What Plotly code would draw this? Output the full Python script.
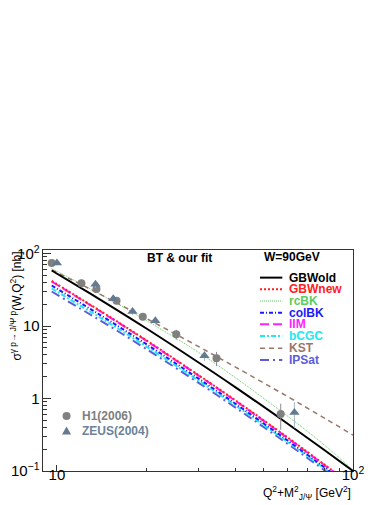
import plotly.graph_objects as go

# curve grid: Q2 + M2_J/psi [GeV^2]
xgrid = [9.6, 12, 15, 20, 30, 40, 60, 80, 100]

gbwold = [58.5, 34.0, 19.5, 9.33, 3.17, 1.44, 0.453, 0.195, 0.100]
gbwnew = [42.0, 24.0, 13.6, 6.40, 2.12, 0.950, 0.292, 0.123, 0.063]
rcbk = [62.2, 38.6, 23.6, 12.0, 4.37, 1.95, 0.575, 0.229, 0.103]
colbk = [36.3, 20.9, 11.95, 5.67, 1.90, 0.854, 0.266, 0.113, 0.058]
iim = [41.2, 23.6, 13.4, 6.31, 2.09, 0.933, 0.287, 0.121, 0.062]
bcgc = [33.0, 19.1, 11.0, 5.26, 1.78, 0.807, 0.254, 0.109, 0.056]
kst = [59.7, 37.9, 23.7, 12.8, 5.25, 2.73, 1.07, 0.538, 0.313]
ipsat = [30.0, 17.4, 10.1, 4.85, 1.66, 0.755, 0.239, 0.103, 0.054]

# data
h1_x = [9.6, 12.1, 13.6, 15.9, 19.5, 25.3, 34.6, 57.0]
h1_y = [74.0, 39.0, 32.4, 22.3, 13.5, 7.7, 3.6, 0.61]
h1_err = [3.0, 5.0, 3.0, 2.0, 1.5, 1.2, 0.8, 0.24]

zeus_x = [10.0, 13.5, 15.5, 18.0, 21.5, 31.5, 63.4]
zeus_y = [74.0, 37.9, 23.8, 15.9, 11.8, 3.9, 0.64]
zeus_err = [5.0, 4.0, 2.5, 1.6, 1.2, 0.6, 0.25]

models = [
    ("GBWold", gbwold, "black", "solid", 2),
    ("GBWnew", gbwnew, "#ff2020", "2px,2px", 2),
    ("rcBK", rcbk, "#5ccc5c", "1px,1px", 1),
    ("colBK", colbk, "#1a1aff", "4px,2px,1px,2px", 2),
    ("IIM", iim, "#ff22ff", "9px,4px", 2),
    ("bCGC", bcgc, "#22e8ee", "5px,2px,2px,2px", 2),
    ("KST", kst, "#98786a", "5px,4px", 1.5),
    ("IPSat", ipsat, "#5c5cdc", "9px,4px,2px,4px", 2),
]
# draw order: keep magenta/red on top of the low bundle
draw_order = ["rcBK", "KST", "GBWold", "IPSat", "bCGC", "colBK", "IIM", "GBWnew"]

FONT = "Liberation Sans, Arial, Helvetica, sans-serif"

fig = go.Figure()

bykey = {m[0]: m for m in models}
for key in draw_order:
    name, ys, col, dash, w = bykey[key]
    fig.add_trace(go.Scatter(
        x=xgrid, y=ys, mode="lines", name=name,
        line=dict(color=col, dash=dash, width=w, shape="spline"),
        showlegend=False,
    ))

fig.add_trace(go.Scatter(
    x=h1_x, y=h1_y, mode="markers", name="H1(2006)",
    marker=dict(symbol="circle", size=8, color="#808080"),
    error_y=dict(type="data", array=h1_err, color="#8c8c8c", thickness=1, width=0),
    showlegend=False,
))
fig.add_trace(go.Scatter(
    x=zeus_x, y=zeus_y, mode="markers", name="ZEUS(2004)",
    marker=dict(symbol="triangle-up", size=9, color="#637a90"),
    error_y=dict(type="data", array=zeus_err, color="#a6b6c4", thickness=1, width=0),
    showlegend=False,
))

shapes = []
annotations = []

# model legend (drawn by hand, ROOT-like compact spacing)
leg_y = [0.875, 0.822, 0.769, 0.716, 0.664, 0.611, 0.555, 0.502]
for (name, ys, col, dash, w), yy in zip(models, leg_y):
    shapes.append(dict(type="line", xref="paper", yref="paper",
                       x0=0.700, x1=0.772, y0=yy, y1=yy,
                       line=dict(color=col, dash=dash, width=w)))
    annotations.append(dict(xref="paper", yref="paper", x=0.788, y=yy,
                            xanchor="left", yanchor="middle", showarrow=False,
                            text="<b>%s</b>" % name,
                            font=dict(family=FONT, size=12, color=col)))

# data legend
shapes.append(dict(type="circle", xref="paper", yref="paper",
                   xsizemode="pixel", ysizemode="pixel",
                   xanchor=0.076, yanchor=0.249,
                   x0=-4, x1=4, y0=-4, y1=4,
                   fillcolor="#808080", line=dict(width=0)))
shapes.append(dict(type="path", xref="paper", yref="paper",
                   xsizemode="pixel", ysizemode="pixel",
                   xanchor=0.076, yanchor=0.181,
                   path="M -4.5 -3.5 L 4.5 -3.5 L 0 4.5 Z",
                   fillcolor="#637a90", line=dict(width=0)))
annotations.append(dict(xref="paper", yref="paper", x=0.119, y=0.249,
                        xanchor="left", yanchor="middle", showarrow=False,
                        text="<b>H1(2006)</b>",
                        font=dict(family=FONT, size=12, color="#808080")))
annotations.append(dict(xref="paper", yref="paper", x=0.119, y=0.181,
                        xanchor="left", yanchor="middle", showarrow=False,
                        text="<b>ZEUS(2004)</b>",
                        font=dict(family=FONT, size=12, color="#6d8299")))

# labels
annotations.append(dict(xref="paper", yref="paper", x=0.44, y=0.964,
                        xanchor="center", yanchor="middle", showarrow=False,
                        text="<b>BT &amp; our fit</b>",
                        font=dict(family=FONT, size=12, color="black")))
annotations.append(dict(xref="paper", yref="paper", x=0.802, y=0.967,
                        xanchor="center", yanchor="middle", showarrow=False,
                        text="<b>W=90GeV</b>",
                        font=dict(family=FONT, size=12, color="black")))
annotations.append(dict(xref="paper", yref="paper", x=-0.09, y=1.0,
                        xanchor="center", yanchor="top", showarrow=False,
                        textangle=-90,
                        text="σ<sup>γ p→ J/Ψ p</sup>(W,Q<sup>2</sup>) [nb]",
                        font=dict(family=FONT, size=12, color="black")))
annotations.append(dict(xref="paper", yref="paper", x=1.0, y=-0.098,
                        xanchor="right", yanchor="middle", showarrow=False,
                        text="Q<sup>2</sup>+M<sup>2</sup><sub>J/Ψ</sub> [GeV<sup>2</sup>]",
                        font=dict(family=FONT, size=12, color="black")))

# page body adds an 8 px offset, so the figure is 8 px smaller
fig.update_layout(
    width=382, height=497,
    margin=dict(l=35, r=37, t=242, b=34),
    paper_bgcolor="white", plot_bgcolor="white",
    font=dict(family=FONT, size=12, color="black"),
    shapes=shapes, annotations=annotations,
    xaxis=dict(
        type="log", range=[0.953, 2.0], dtick=1, exponentformat="power",
        ticks="inside", ticklen=6, tickcolor="#333", showgrid=False, zeroline=False,
        showline=True, linecolor="#333", linewidth=1, mirror=True, automargin=False,
        minor=dict(ticks="inside", ticklen=3, tickcolor="#333", dtick="D1", showgrid=False),
        tickfont=dict(family=FONT, size=12), ticklabelstandoff=-9,
    ),
    yaxis=dict(
        type="log", range=[-1, 2.05], dtick=1, exponentformat="power",
        ticks="inside", ticklen=8, tickcolor="#333", showgrid=False, zeroline=False,
        showline=True, linecolor="#333", linewidth=1, mirror=True, automargin=False,
        minor=dict(ticks="inside", ticklen=4, tickcolor="#333", dtick="D1", showgrid=False),
        tickfont=dict(family=FONT, size=12),
    ),
)

fig.write_html("out.html")
